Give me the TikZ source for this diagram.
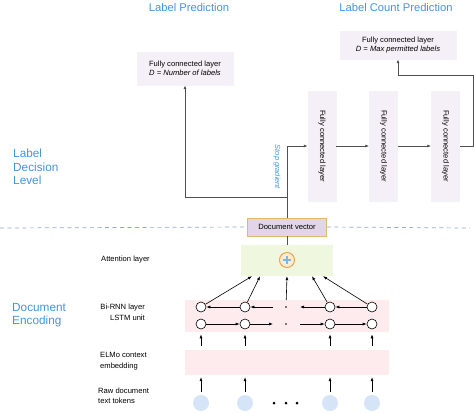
\documentclass[tikz,border=0pt]{standalone}
\usepackage{fontspec}
\setmainfont{Liberation Sans}
\usetikzlibrary{arrows.meta}
\definecolor{lblue}{RGB}{66,148,232}
\definecolor{fcfill}{RGB}{245,240,248}
\definecolor{dvfill}{RGB}{225,213,231}
\definecolor{dvline}{RGB}{222,186,110}
\definecolor{attfill}{RGB}{239,247,222}
\definecolor{rnnfill}{RGB}{253,235,238}
\definecolor{tokfill}{RGB}{214,228,247}
\definecolor{dashc}{RGB}{140,170,205}
\definecolor{linec}{RGB}{80,80,80}
\begin{document}
\begin{tikzpicture}[x=1pt,y=-1pt]
\tikzstyle{every node}+=[inner sep=0pt, font=\fontsize{7.6}{10.5}\selectfont]
\tikzstyle{title}=[text=lblue, font=\fontsize{11.2}{13}\selectfont]
\tikzstyle{level}=[text=lblue, font=\fontsize{11.8}{13.5}\selectfont, align=left, anchor=west]
\tikzstyle{fcbox}=[fill=fcfill, draw=fcfill!80!black!20, align=center, font=\fontsize{7.6}{9.5}\selectfont]
\tikzstyle{fcvert}=[fcbox, rotate=-90, minimum width=110, minimum height=28]
\tikzstyle{band}=[minimum width=204]
\tikzstyle{cell}=[circle, draw=black, fill=white, minimum size=10, line width=0.6pt]
\tikzstyle{tok}=[circle, fill=tokfill, minimum size=16]
\tikzstyle{dot}=[circle, fill=black, minimum size=1.6]
\tikzstyle{arr}=[-{Latex[length=4pt,width=3pt]}, line width=0.6pt]
\tikzstyle{garr}=[arr, draw=linec, line width=0.8pt]
\useasboundingbox (0,0) rectangle (474,413);
% titles and levels
\node[title] (tlp) at (189,7) {Label Prediction};
\node[title] (tlc) at (396,7) {Label Count Prediction};
\node[level] (ldl) at (13,167) {Label\\Decision\\Level};
\node[level] (den) at (12,315) {Document\\Encoding};
% label decision part
\node[fcbox, minimum width=96, minimum height=33] (fc1) at (185,68.5) {Fully connected layer\\\textit{D = Number of labels}};
\node[fcbox, minimum width=116, minimum height=28] (fc2) at (398,45) {Fully connected layer\\\textit{D = Max permitted labels}};
\node[fcvert] (fca) at (322,146) {Fully connected layer};
\node[fcvert] (fcb) at (383.5,146) {Fully connected layer};
\node[fcvert] (fcc) at (445.5,146) {Fully connected layer};
\node[fill=dvfill, draw=dvline, line width=0.8pt, minimum width=79, minimum height=18] (dv) at (287,227) {Document vector};
\coordinate (sg) at (287,197);
\coordinate (rt) at (473,75);
\draw[garr] (dv.north) |- (fca);
\draw[garr] (sg) -| (fc1);
\draw[garr] (fca) -- (fcb);
\draw[garr] (fcb) -- (fcc);
\draw[garr] (fcc) -| (rt) -| (fc2);
\node[text=lblue, rotate=-90, font=\fontsize{7.4}{8}\itshape] (sgt) at (277,167) {Stop gradient};
\draw[dashc, line width=0.7pt, dash pattern=on 4pt off 3.5pt] (0,228) -- (dv.west);
\draw[dashc, line width=0.7pt, dash pattern=on 4pt off 3.5pt] (dv.east) -- (470,228);
% document encoding part
\node[fill=attfill, minimum width=92, minimum height=31] (att) at (287,260.5) {};
\draw[linec, line width=0.8pt] (dv) -- (att);
\node[circle, draw={rgb,255:red,232;green,165;blue,80}, fill={rgb,255:red,252;green,236;blue,210}, line width=1pt, minimum size=15] (sum) at (287,260) {};
\draw[lblue!70, line width=2.2pt] ([xshift=-4]sum.center) -- ([xshift=4]sum.center);
\draw[lblue!70, line width=2.2pt] ([yshift=-4]sum.center) -- ([yshift=4]sum.center);
\node[band, fill=rnnfill, minimum height=32] (rnn) at (287,316) {};
\node[band, fill=rnnfill, minimum height=25] (elmo) at (287,362.5) {};
\node[anchor=west] (latt) at (101,260) {Attention layer};
\node[anchor=east, align=right] (lrnn) at (145,312.5) {Bi-RNN layer\\LSTM unit};
\node[anchor=west, align=left] (lelmo) at (100,361) {ELMo context\\embedding};
\node[anchor=west, align=left] (ltok) at (98,396) {Raw document\\text tokens};
\foreach \i/\x in {1/201,2/245,3/330,4/372} {
  \node[cell] (t\i) at (\x,307) {};
  \node[cell] (b\i) at (\x,324) {};
  \node[tok] (k\i) at (\x,403) {};
  \draw[arr, shorten <=4pt, shorten >=5pt] (elmo.north -| b\i) -- (b\i);
  \draw[arr, shorten <=3pt, shorten >=2pt] (k\i) -- (elmo.south -| k\i);
}
\node[dot] (dt) at (286,307) {};
\node[dot] (db) at (286,324) {};
\foreach \x [count=\j] in {274,286,297} \node[dot, minimum size=3] (kd\j) at (\x,403) {};
\coordinate (tl) at (273,307);
\coordinate (tr) at (300,307);
\coordinate (bl) at (273,324);
\coordinate (br) at (300,324);
\draw[arr] (t2) -- (t1);
\draw[arr] (tl) -- (t2);
\draw[arr] (t3) -- (tr);
\draw[arr] (t4) -- (t3);
\draw[arr] (b1) -- (b2);
\draw[arr] (b2) -- (bl);
\draw[arr] (br) -- (b3);
\draw[arr] (b3) -- (b4);
\draw[arr] (t1) -- ([xshift=-35]att.south);
\draw[arr] (t2) -- ([xshift=-27]att.south);
\draw[arr, shorten <=6pt] (dt) -- (att.south);
\draw[arr] (t3) -- ([xshift=25]att.south);
\draw[arr] (t4) -- ([xshift=36]att.south);
\end{tikzpicture}
\end{document}
